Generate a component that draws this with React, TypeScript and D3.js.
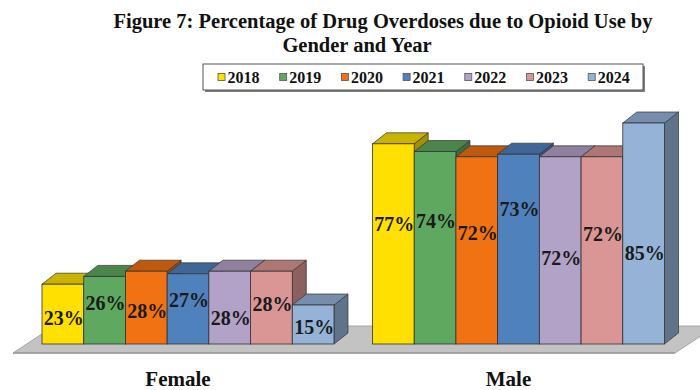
import React from "react";
import * as d3 from "d3";

const categories = ["Female", "Male"];
const years = ["2018", "2019", "2020", "2021", "2022", "2023", "2024"];
const femaleValues = [23, 26, 28, 27, 28, 28, 15];
const maleValues = [77, 74, 72, 73, 72, 72, 85];
const yearColors = ["#FFE000", "#5FA85F", "#F07212", "#4F81BD", "#B3A2C7", "#D99694", "#95B3D7"];
// heights (in value units) at which each data label is centred
const femaleLabelAt = [10, 15.9, 12.8, 16.9, 10.1, 15.3, 6.7];
const maleLabelAt = [46.2, 47.4, 42.6, 51.8, 33, 42.3, 34.9];

const W = 700;
const H = 390;
const DX = 14;
const DY = -11;
const FONT = "'Liberation Serif', 'Times New Roman', serif";

export default function App() {
  const x0 = d3.scaleBand<string>().domain(categories).range([42, 664.5]).paddingInner(0.1165).paddingOuter(0);
  const x1 = d3.scaleBand<string>().domain(years).range([0, x0.bandwidth()]).padding(0);
  const y = d3.scaleLinear().domain([0, 100]).range([344, 84]);

  const series = [femaleValues, maleValues];
  const labelAt = [femaleLabelAt, maleLabelAt];

  // floor parallelogram
  const floorPath = d3.path();
  floorPath.moveTo(13, 353);
  floorPath.lineTo(675, 353);
  floorPath.lineTo(716, 326);
  floorPath.lineTo(54, 326);
  floorPath.closePath();

  const legendX0 = 218;
  const legendStep = 61.7;

  return (
    <svg width={W} height={H} style={{ position: "absolute", left: 0, top: 0, background: "#fff" }}>
      <rect width={W} height={H} fill="#fff" />
      <text x={383} y={28} textAnchor="middle" fontFamily={FONT} fontWeight="bold" fontSize={20.5} fill="#111">
        Figure 7: Percentage of Drug Overdoses due to Opioid Use by
      </text>
      <text x={357} y={52} textAnchor="middle" fontFamily={FONT} fontWeight="bold" fontSize={20.5} fill="#111">
        Gender and Year
      </text>

      {/* legend */}
      <rect x={205} y={66} width={440} height={26} fill="#7f7f7f" />
      <rect x={203} y={64} width={440} height={26} fill="#fff" stroke="#555" strokeWidth={1} />
      {years.map((yr, i) => (
        <g key={yr} transform={`translate(${legendX0 + i * legendStep},77)`}>
          <rect x={0} y={-3.5} width={7} height={7} fill={yearColors[i]} stroke="#555" strokeWidth={0.8} />
          <text x={9.5} y={0} dy="0.35em" fontFamily={FONT} fontWeight="bold" fontSize={16} fill="#111">
            {yr}
          </text>
        </g>
      ))}

      {/* floor */}
      <path d={floorPath.toString()} fill="#c3c3c3" stroke="#a6a6a6" strokeWidth={1} />
      <line x1={13} y1={353} x2={675} y2={353} stroke="#9a9a9a" strokeWidth={1.5} />

      {/* 3D columns */}
      {categories.map((cat, ci) => (
        <g key={cat} transform={`translate(${x0(cat)},0)`}>
          {series[ci].map((v, i) => {
            const bx = x1(years[i]) as number;
            const bw = x1.bandwidth();
            const top = y(v);
            const base = y(0);
            const c = d3.color(yearColors[i])!;
            const topCol = c.darker(0.65).formatHex();
            const sideCol = c.darker(1.25).formatHex();
            const side = `M${bx + bw},${top}L${bx + bw + DX},${top + DY}L${bx + bw + DX},${base + DY}L${bx + bw},${base}Z`;
            const lid = `M${bx},${top}L${bx + DX},${top + DY}L${bx + bw + DX},${top + DY}L${bx + bw},${top}Z`;
            return (
              <g key={years[i]}>
                <path d={side} fill={sideCol} stroke="#333" strokeWidth={0.7} strokeLinejoin="round" />
                <path d={lid} fill={topCol} stroke="#333" strokeWidth={0.7} strokeLinejoin="round" />
                <rect x={bx} y={top} width={bw} height={base - top} fill={yearColors[i]} stroke="#333" strokeWidth={0.8} />
              </g>
            );
          })}
        </g>
      ))}

      {/* data labels */}
      {categories.map((cat, ci) => (
        <g key={cat + "-labels"} transform={`translate(${x0(cat)},0)`}>
          {series[ci].map((v, i) => (
            <text
              key={years[i]}
              x={(x1(years[i]) as number) + x1.bandwidth() / 2 + 1}
              y={y(labelAt[ci][i])}
              dy="0.35em"
              textAnchor="middle"
              fontFamily={FONT}
              fontWeight="bold"
              fontSize={20}
              fill="#1a1a1a"
            >
              {`${v}%`}
            </text>
          ))}
        </g>
      ))}

      {/* category axis labels */}
      {categories.map((cat) => (
        <text
          key={cat + "-axis"}
          x={(x0(cat) as number) + x0.bandwidth() / 2 - 10}
          y={379}
          dy="0.35em"
          textAnchor="middle"
          fontFamily={FONT}
          fontWeight="bold"
          fontSize={21}
          fill="#111"
        >
          {cat}
        </text>
      ))}
    </svg>
  );
}
